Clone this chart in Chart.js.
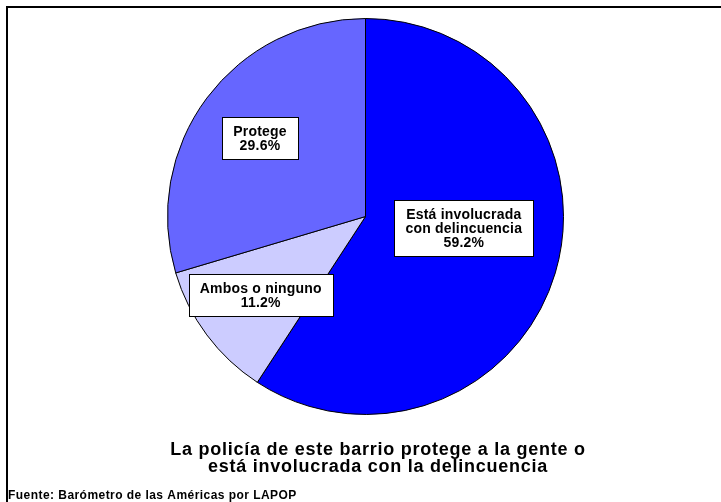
<!DOCTYPE html>
<html>
<head>
<meta charset="utf-8">
<script src="https://cdn.jsdelivr.net/npm/chart.js@4/dist/chart.umd.min.js"></script>
<style>
	html, body { margin: 0; padding: 0; background: #fff; }
	#wrap { position: relative; width: 721px; height: 502px; }
</style>
</head>
<body>
<div id="wrap"><canvas id="pie-chart"></canvas></div>
<script>
// datos
var categorias = ['Está involucrada\ncon delincuencia', 'Ambos o ninguno', 'Protege'];
var valores = [59.2, 11.2, 29.6];
var colores = ['#0000FF', '#CCCCFF', '#6666FF'];
var titulo = ['La policía de este barrio protege a la gente o', 'está involucrada con la delincuencia'];
var fuente = 'Fuente: Barómetro de las Américas por LAPOP';

// posicion de etiquetas: fraccion del radio, giro en grados
var posEtiqueta = [[0.5, -9.7], [0.66, 0], [0.665, 0]];

var FONT = '"Liberation Sans", Arial, sans-serif';

var marcoPlugin = {
	id: 'marco',
	beforeDraw: function(chart) {
		var ctx = chart.ctx;
		ctx.save();
		ctx.fillStyle = '#fff';
		ctx.fillRect(0, 0, chart.width, chart.height);
		ctx.strokeStyle = '#000';
		ctx.lineWidth = 2;
		ctx.strokeRect(7, 7, 1000, 1000);
		ctx.restore();
	},
	afterDraw: function(chart) {
		var ctx = chart.ctx;
		var meta = chart.getDatasetMeta(0);
		ctx.save();

		// etiquetas en cajas
		ctx.font = 'bold 14px ' + FONT;
		ctx.letterSpacing = '0.2px';
		ctx.textAlign = 'center';
		ctx.textBaseline = 'middle';
		meta.data.forEach(function(arc, i) {
			var p = arc.getProps(['x', 'y', 'startAngle', 'endAngle', 'outerRadius'], true);
			var mid = (p.startAngle + p.endAngle) / 2 + posEtiqueta[i][1] * Math.PI / 180;
			var r = p.outerRadius * posEtiqueta[i][0];
			var cx = p.x + Math.cos(mid) * r;
			var cy = p.y + Math.sin(mid) * r;
			var lineas = categorias[i].split('\n').concat([valores[i].toFixed(1) + '%']);
			var w = 0;
			lineas.forEach(function(l) { w = Math.max(w, ctx.measureText(l).width); });
			var lh = 14;
			var bw = Math.round(w + 22), bh = lineas.length * lh + 14;
			var bx = Math.round(cx - bw / 2) + 0.5, by = Math.round(cy - bh / 2) + 0.5;
			ctx.fillStyle = '#fff';
			ctx.fillRect(bx, by, bw, bh);
			ctx.strokeStyle = '#000';
			ctx.lineWidth = 1;
			ctx.strokeRect(bx, by, bw, bh);
			ctx.fillStyle = '#000';
			lineas.forEach(function(l, k) {
				ctx.fillText(l, cx, by + 7 + lh * k + lh / 2 + 1);
			});
		});

		// titulo
		ctx.font = 'bold 18px ' + FONT;
		ctx.letterSpacing = '0.75px';
		ctx.textAlign = 'center';
		ctx.textBaseline = 'alphabetic';
		ctx.fillText(titulo[0], 378, 455);
		ctx.fillText(titulo[1], 378, 472);

		// fuente
		ctx.font = 'bold 12px ' + FONT;
		ctx.letterSpacing = '0.45px';
		ctx.textAlign = 'left';
		ctx.fillText(fuente, 8, 499);
		ctx.restore();
	}
};

new Chart(document.getElementById('pie-chart'), {
	type: 'pie',
	data: {
		labels: categorias,
		datasets: [{
			data: valores,
			backgroundColor: colores,
			borderColor: '#000',
			borderWidth: 1
		}]
	},
	options: {
		responsive: true,
		maintainAspectRatio: false,
		animation: false,
		layout: {
			padding: { top: 18, bottom: 87, left: 166, right: 156 }
		},
		plugins: {
			legend: { display: false },
			tooltip: { enabled: false },
			title: { display: false }
		}
	},
	plugins: [marcoPlugin]
});
</script>
</body>
</html>
